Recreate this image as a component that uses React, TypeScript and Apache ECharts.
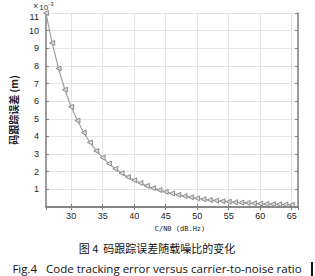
import React, { useEffect, useRef } from "react";
import * as echarts from "echarts";

const cn0: number[] = [26, 27, 28, 29, 30, 31, 32, 33, 34, 35, 36, 37, 38, 39, 40, 41, 42, 43, 44, 45, 46, 47, 48, 49, 50, 51, 52, 53, 54, 55, 56, 57, 58, 59, 60, 61, 62, 63, 64, 65];
const trackErr: number[] = [11.0, 9.3, 7.85, 6.65, 5.68, 4.9, 4.22, 3.66, 3.18, 2.8, 2.46, 2.17, 1.92, 1.7, 1.52, 1.36, 1.2, 1.07, 0.96, 0.86, 0.77, 0.69, 0.62, 0.55, 0.49, 0.44, 0.4, 0.36, 0.33, 0.3, 0.27, 0.25, 0.23, 0.21, 0.19, 0.17, 0.16, 0.15, 0.14, 0.13];

const xLabel = "C/N0 (dB.Hz)";
const yLabel = "码跟踪误差 (m)";
const captionCn = "图 4  码跟踪误差随载噪比的变化";
const captionEn = "Fig.4   Code tracking error versus carrier-to-noise ratio";

export default function App() {
  const ref = useRef<HTMLDivElement>(null);
  useEffect(() => {
    if (!ref.current) return;
    const chart = echarts.init(ref.current, null, { renderer: "svg" });
    const axisLine = { show: true, lineStyle: { color: "#808080", width: 1.5 } };
    const tick = { show: true, inside: true, length: 3, lineStyle: { color: "#808080" } };
    const split = { show: true, lineStyle: { color: "#e4e4e4", width: 1 } };
    const lbl = { color: "#222", fontSize: 9, fontFamily: "Arial, Liberation Sans" };
    chart.setOption({
      animation: false,
      backgroundColor: "#fff",
      grid: { left: 42, right: 17, top: 13, bottom: 69, containLabel: false },
      xAxis: [
        {
          type: "value", min: 26, max: 66, splitNumber: 8,
          axisLine, axisTick: tick, splitLine: split,
          axisLabel: { ...lbl, margin: 4, showMinLabel: false, showMaxLabel: false },
        },
        {
          type: "value", position: "top", min: 26, max: 66, splitNumber: 8,
          axisLine, axisTick: tick, splitLine: { show: false }, axisLabel: { show: false },
        },
      ],
      yAxis: [
        {
          type: "value", min: 0, max: 11, interval: 1,
          axisLine, axisTick: tick, splitLine: split,
          axisLabel: { ...lbl, margin: 7, showMinLabel: false, showMaxLabel: false, hideOverlap: false },
          name: yLabel, nameLocation: "middle", nameGap: 27,
          nameTextStyle: { fontSize: 10, fontWeight: "bold", color: "#222", fontFamily: "Noto Sans CJK SC" },
        },
        {
          type: "value", position: "right", min: 0, max: 11, interval: 1,
          axisLine, axisTick: tick, splitLine: { show: false }, axisLabel: { show: false },
        },
        {
          type: "value", position: "left", min: 0, max: 11, interval: 1,
          axisLine: { show: false }, axisTick: { show: false }, splitLine: { show: false },
          axisLabel: {
            ...lbl, margin: 7, showMinLabel: false, showMaxLabel: true, hideOverlap: false,
            formatter: (v: number) => (v === 11 ? "{t|11}" : ""),
            rich: { t: { fontSize: 9, color: "#222", fontFamily: "Arial, Liberation Sans", padding: [8, 0, 0, 0] } },
          },
        },
      ],
      series: [
        {
          type: "line",
          data: cn0.map((x, i) => [x, trackErr[i]]),
          symbol: "triangle",
          symbolRotate: 90,
          symbolSize: 5,
          lineStyle: { color: "#a0a0a0", width: 1.2 },
          itemStyle: { color: "#dcdcdc", borderColor: "#8c8c8c", borderWidth: 1 },
          showAllSymbol: true,
        },
      ],
      graphic: [
        {
          type: "text", left: 33, top: 1,
          style: {
            text: "{a|×}{b|10}{c|-3}",
            rich: {
              a: { fontSize: 9, fill: "#333", fontFamily: "Arial" },
              b: { fontSize: 8, fill: "#333", fontFamily: "Arial", padding: [2, 0, 0, 1] },
              c: { fontSize: 6, fill: "#333", fontFamily: "Arial", verticalAlign: "top", padding: [0, 0, 4, 0] },
            },
          },
        },
        {
          type: "text", x: 180, y: 229,
          style: { text: xLabel, fontSize: 7, fontFamily: "DejaVu Sans Mono", fill: "#222", align: "center", verticalAlign: "middle" },
        },
        {
          type: "text", x: 157, y: 248,
          style: { text: captionCn, fontSize: 11, fontFamily: "Noto Sans CJK SC", fill: "#111", align: "center", verticalAlign: "middle" },
        },
        {
          type: "text", x: 157, y: 268,
          style: { text: captionEn, fontSize: 11.5, fontFamily: "Open Sans", fill: "#111", align: "center", verticalAlign: "middle" },
        },
        {
          type: "rect", shape: { x: 311, y: 262, width: 2, height: 14 },
          style: { fill: "#111" },
        },
      ],
    });
    return () => chart.dispose();
  }, []);
  return <div ref={ref} style={{ width: 315, height: 276, position: "absolute", left: 0, top: 0 }} />;
}
